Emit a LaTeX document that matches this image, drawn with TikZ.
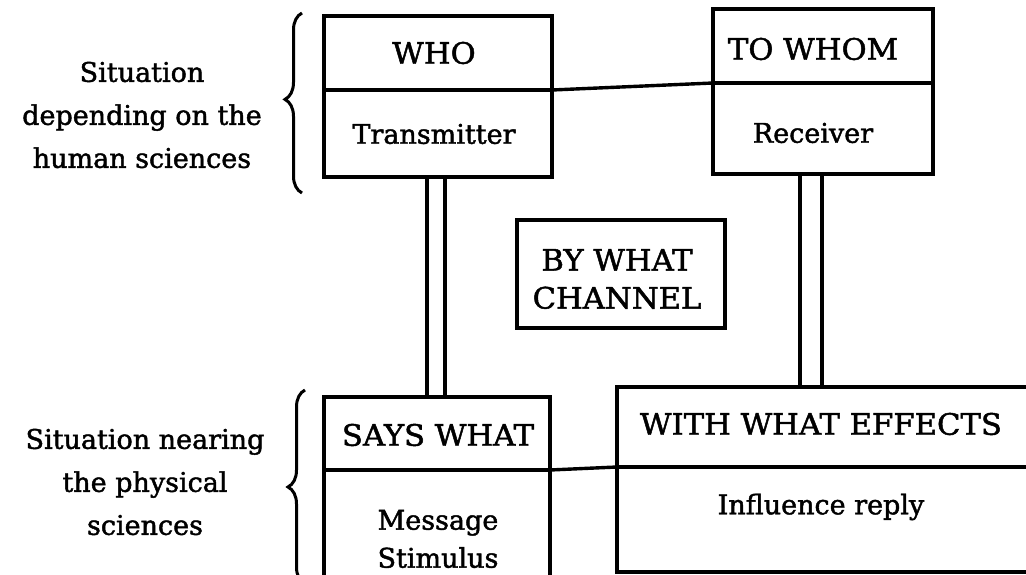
\documentclass[tikz,border=0pt]{standalone}
\usepackage{fontspec}
\setmainfont[FakeBold=1.6]{DejaVu Serif}
\newfontfamily\capsfont[FakeStretch=1.04,FakeBold=1.6]{DejaVu Serif}
\usetikzlibrary{decorations.pathreplacing,calc}
\begin{document}
\begin{tikzpicture}[x=1pt,y=-1pt,
  cell/.style={draw, line width=3.4pt, inner sep=0pt, outer sep=0pt},
  txt/.style={inner sep=0pt, font=\fontsize{27}{38}\selectfont, align=center},
  captxt/.style={inner sep=0pt, font=\capsfont\fontsize{29.5}{38}\selectfont, align=center},
  lbl/.style={inner sep=0pt, font=\fontsize{27}{43}\selectfont, align=center},
  conn/.style={line width=3.4pt},
  bracestyle/.style={line width=3pt, decorate, decoration={brace, amplitude=17pt, aspect=#1}}]
\useasboundingbox (0,0) rectangle (1026,575);
\clip (0,0) rectangle (1026,575);
% cells
\node[cell, minimum width=228pt, minimum height=74pt] (who) at (438,53) {};
\node[cell, minimum width=228pt, minimum height=87pt] (transmitter) at (438,133.5) {};
\node[cell, minimum width=220pt, minimum height=74pt] (towhom) at (823,46) {};
\node[cell, minimum width=220pt, minimum height=91pt] (receiver) at (823,128.5) {};
\node[cell, minimum width=208pt, minimum height=108pt] (channel) at (621,274) {};
\node[cell, minimum width=226pt, minimum height=73pt] (sayswhat) at (437,433.5) {};
\node[cell, minimum width=226pt, minimum height=140pt] (message) at (437,540) {};
\node[cell, minimum width=415pt, minimum height=80pt] (effects) at (824.5,427) {};
\node[cell, minimum width=415pt, minimum height=105pt] (influence) at (824.5,519.5) {};
% texts
\node[captxt] (twho) at (434,53) {WHO};
\node[txt] (ttrans) at (434,134) {Transmitter};
\node[captxt] (ttowhom) at (813,49) {TO WHOM};
\node[txt] (trecv) at (813,133) {Receiver};
\node[captxt] (tchannel) at (617,279) {BY WHAT\\CHANNEL};
\node[captxt] (tsays) at (438,435) {SAYS WHAT};
\node[txt] (tmsg) at (438,539) {Message\\Stimulus};
\node[captxt] (teff) at (821,424) {WITH WHAT EFFECTS};
\node[txt] (tinfl) at (821,507) {Influence reply};
% side labels
\node[lbl] (human) at (142,115) {Situation\\depending on the\\human sciences};
\node[lbl] (physical) at (145,482) {Situation nearing\\the physical\\sciences};
% braces
\draw[bracestyle=0.52] (302,193) -- (302,13);
\draw[bracestyle=0.5] (305,584) -- (305,390);
% connectors
\draw[conn] (who.south east) -- (towhom.south west);
\draw[conn] (sayswhat.south east) -- (effects.south west);
\coordinate (l1) at ($(transmitter.south)+(-11,0)$);
\coordinate (l2) at ($(transmitter.south)+(7,0)$);
\coordinate (r1) at ($(receiver.south)+(-23,0)$);
\coordinate (r2) at ($(receiver.south)+(-1,0)$);
\draw[conn] (l1) -- (l1 |- sayswhat.north);
\draw[conn] (l2) -- (l2 |- sayswhat.north);
\draw[conn] (r1) -- (r1 |- effects.north);
\draw[conn] (r2) -- (r2 |- effects.north);
\end{tikzpicture}
\end{document}
